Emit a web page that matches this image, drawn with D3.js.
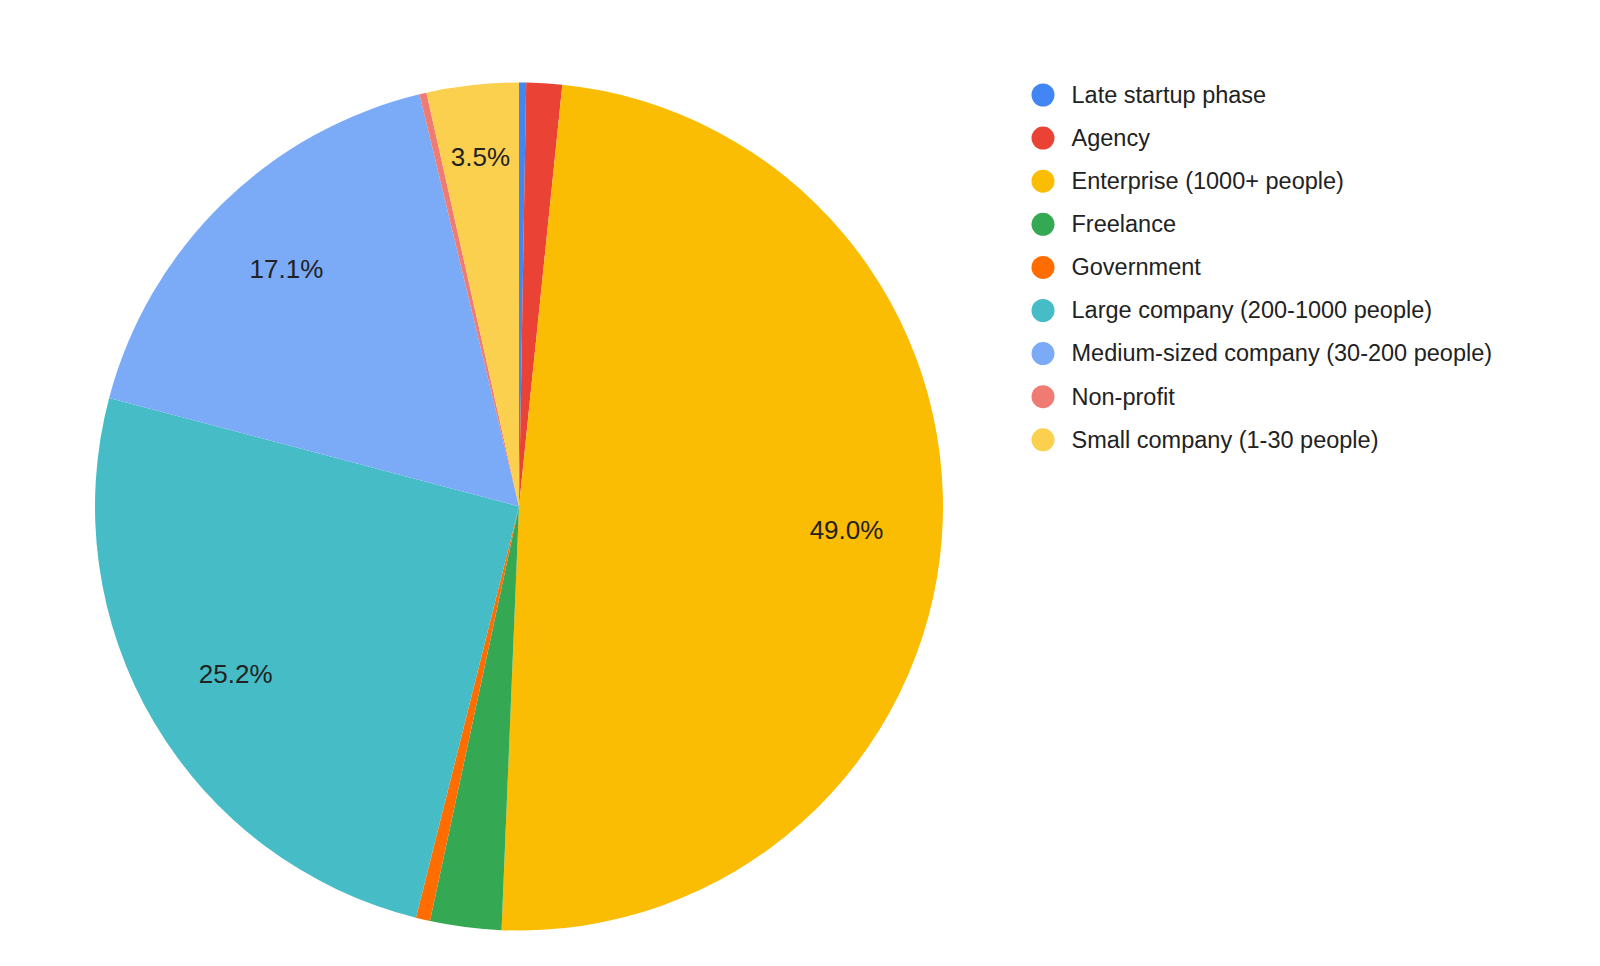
<!DOCTYPE html>
<html>
<head>
<meta charset="utf-8">
<script src="https://cdn.jsdelivr.net/npm/d3@7"></script>
<style>
  body { margin: 0; background: #fff; }
</style>
</head>
<body>
<div id="pie"></div>
<script>
// data: share of respondents per company type (%)
const categories = [
  "Late startup phase",
  "Agency",
  "Enterprise (1000+ people)",
  "Freelance",
  "Government",
  "Large company (200-1000 people)",
  "Medium-sized company (30-200 people)",
  "Non-profit",
  "Small company (1-30 people)"
];
const shares = [0.27, 1.36, 49.0, 2.71, 0.54, 25.2, 17.1, 0.27, 3.5];
const colors = ["#4285f4", "#ea4335", "#fbbc04", "#34a853", "#ff6d01",
  "#46bdc6", "#7baaf7", "#f07b72", "#fcd04f"];

const width = 1600,
  height = 966,
  cx = 519,
  cy = 506.5,
  radius = 424;

const svg = d3.select("#pie")
  .append("svg")
  .attr("width", width)
  .attr("height", height)
  .style("font-family", "Arial, 'Liberation Sans', sans-serif");

const data = categories.map((c, i) => ({ name: c, value: shares[i], color: colors[i] }));
const total = d3.sum(shares);

const pie = d3.pie()
  .sort(null)
  .value(d => d.value);

const arc = d3.arc()
  .innerRadius(0)
  .outerRadius(radius);

const arcs = pie(data);

const g = svg.append("g")
  .attr("transform", `translate(${cx},${cy})`);

// slices
g.selectAll("path")
  .data(arcs)
  .enter()
  .append("path")
  .attr("d", arc)
  .attr("fill", d => d.data.color);

// percentage labels, only on slices big enough to hold them
const labelFont = 26,
  outerDist = radius * 0.863;

const labels = g.selectAll("text.pct")
  .data(arcs.filter(d => d.endAngle - d.startAngle > 0.2))
  .enter()
  .append("text")
  .attr("class", "pct")
  .attr("font-size", labelFont)
  .attr("fill", "#222")
  .attr("text-anchor", "middle")
  .attr("dominant-baseline", "central")
  .text(d => d3.format(".1f")(d.data.value / total * 100) + "%");

// push each label out until its far corner sits at outerDist
labels.each(function (d) {
  const w = this.getComputedTextLength() / 2,
    h = labelFont * 0.38;
  const a = (d.startAngle + d.endAngle) / 2;
  const ux = Math.sin(a),
    uy = -Math.cos(a);
  const px = Math.sign(ux) * w,
    py = Math.sign(uy) * h;
  // solve |r*u + p| = outerDist
  const b = ux * px + uy * py,
    c = px * px + py * py - outerDist * outerDist;
  const r = -b + Math.sqrt(b * b - c);
  d3.select(this)
    .attr("x", r * ux)
    .attr("y", r * uy);
});

// legend
const legend = svg.append("g")
  .attr("transform", "translate(1043,95)");

const rows = legend.selectAll("g")
  .data(data)
  .enter()
  .append("g")
  .attr("transform", (d, i) => `translate(0,${i * 43.1})`);

rows.append("circle")
  .attr("r", 11.5)
  .attr("fill", d => d.color);

rows.append("text")
  .attr("x", 28.5)
  .attr("y", 7.8)
  .attr("font-size", 23.5)
  .attr("fill", "#222")
  .text(d => d.name);
</script>
</body>
</html>
